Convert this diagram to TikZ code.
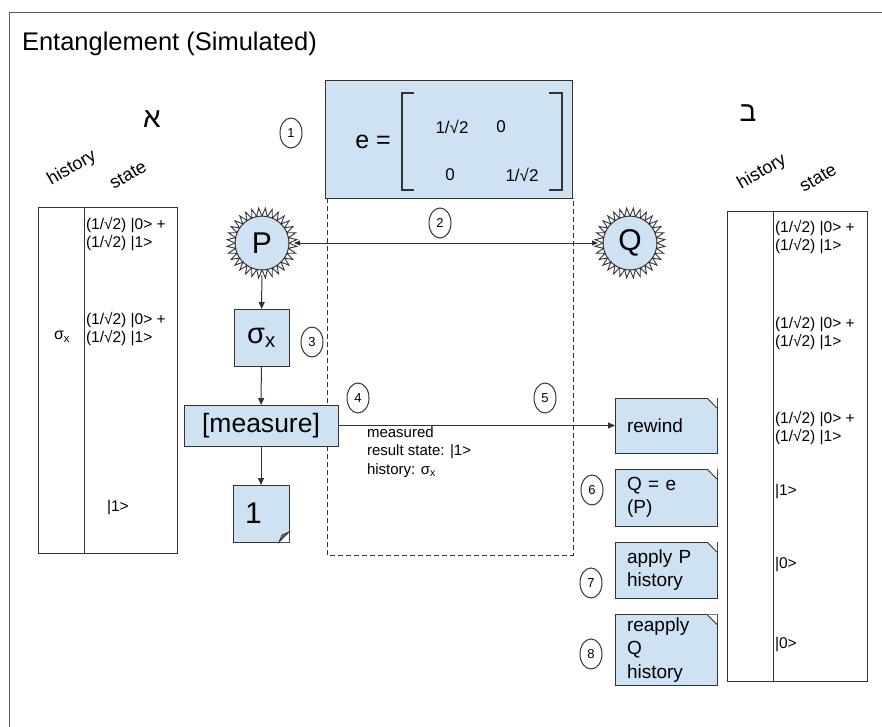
\documentclass[tikz,border=0pt]{standalone}
\usepackage{fontspec}
\setmainfont{Liberation Sans}
\newfontfamily\hebfont[Script=Hebrew]{Liberation Sans}
\TeXXeTstate=1
\usetikzlibrary{arrows.meta,shapes.geometric}

\definecolor{boxblue}{HTML}{CFE2F3}
\definecolor{framegray}{HTML}{595959}
\definecolor{ink}{HTML}{333333}

% zigzag rim round a node
\newcommand{\burst}[1]{%
  \begin{scope}[shift={(#1)}]
    \draw[ink, line width=0.9pt, line join=miter] (0:27) \foreach \k in {1,...,63} { -- ({\k*5.625}:{27+8*mod(\k,2)}) } -- cycle;
  \end{scope}}
% cut corner top right
\newcommand{\cutne}[1]{%
  \fill[white] ([xshift=-10pt]#1.north east) -- (#1.north east) -- ([yshift=-10pt]#1.north east) -- cycle;
  \draw[ink] ([xshift=-10pt]#1.north east) -- ([yshift=-10pt]#1.north east);}
% folded corner bottom right
\newcommand{\dogear}[1]{%
  \fill[white] ([xshift=-10pt]#1.south east) -- (#1.south east) -- ([yshift=10pt]#1.south east) -- cycle;
  \filldraw[ink, fill=black!55, line width=0.8pt] ([xshift=-10pt]#1.south east) -- ([yshift=10pt]#1.south east) -- ([xshift=-7pt,yshift=7pt]#1.south east) -- cycle;}

\begin{document}
\begin{tikzpicture}[x=1pt, y=-1pt, line width=1pt,
    every node/.style={inner sep=0pt, outer sep=0pt},
    bluebox/.style={draw=ink, fill=boxblue},
    notebox/.style={bluebox, minimum width=102pt, text width=78pt, inner xsep=12pt, align=left, font=\fontsize{19}{23.5}\selectfont},
    stepnum/.style={draw=ink, ellipse, minimum width=22pt, minimum height=30pt, font=\fontsize{13}{13}\selectfont},
    cell/.style={anchor=west, align=left, font=\fontsize{15.5}{18.5}\selectfont},
    colhead/.style={rotate=30, font=\fontsize{18}{18}\selectfont},
    arr/.style={ink, -{Triangle[length=7pt,width=6pt]}}]

    \useasboundingbox (0,0) rectangle (882,726);
    \clip (0,0) rectangle (882,726);
    \draw[framegray] (9,12) rectangle (900,740);

    \node[anchor=base west, font=\fontsize{25.5}{28}\selectfont] (title) at (22,50) {Entanglement (Simulated)};

    % the two parties
    \node[font=\fontsize{28}{30}\selectfont\hebfont] (alef) at (152,119) {\beginR א\endR};
    \node[font=\fontsize{28}{30}\selectfont\hebfont] (bet) at (748,113) {\beginR ב\endR};

    % matrix
    \node[bluebox, minimum width=247pt, minimum height=118pt] (matbox) at (448.5,139) {};
    \draw[ink, line width=1.2pt] (414,93) -- (402,93) -- (402,190) -- (414,190);
    \draw[ink, line width=1.2pt] (549,93) -- (562,93) -- (562,190) -- (549,190);
    \node[font=\fontsize{25}{25}\selectfont] (eq) at (373,142) {e =};
    \node[font=\fontsize{17}{17}\selectfont] (m11) at (452,127) {1/√2};
    \node[font=\fontsize{17}{17}\selectfont] (m12) at (501,127) {0};
    \node[font=\fontsize{17}{17}\selectfont] (m21) at (450,175) {0};
    \node[font=\fontsize{17}{17}\selectfont] (m22) at (522,175) {1/√2};

    \draw[ink, dash pattern=on 5pt off 3pt] (327,198) rectangle (573,555);

    % qubits
    \node[circle, bluebox, minimum size=54pt, outer sep=5pt, font=\fontsize{30}{30}\selectfont] (P) at (262,243) {P};
    \node[circle, bluebox, minimum size=54pt, outer sep=5pt, font=\fontsize{30}{30}\selectfont] (Q) at (630,243) {Q};
    \burst{P}
    \burst{Q}

    \node[bluebox, minimum width=55pt, minimum height=57pt, font=\fontsize{29}{29}\selectfont] (sx) at (261.5,337.5) {σ\textsubscript{x}};
    \node[bluebox, minimum width=154pt, minimum height=41pt, font=\fontsize{26.5}{26.5}\selectfont] (meas) at (261,425.5) {[measure]};
    \node[bluebox, minimum width=56pt, minimum height=57pt, text width=32pt, inner xsep=12pt, align=left, font=\fontsize{30}{30}\selectfont] (one) at (261,513.5) {1};
    \dogear{one}

    \node[notebox, minimum height=55pt] (rewind) at (666,425.5) {rewind};
    \node[notebox, minimum height=57pt] (qe) at (666,497.5) {Q = e\\(P)};
    \node[notebox, minimum height=56pt] (applyp) at (666,570) {apply P\\history};
    \node[notebox, minimum height=71pt] (reapply) at (666,650) {reapply\\Q\\history};
    \cutne{rewind}
    \cutne{qe}
    \cutne{applyp}
    \cutne{reapply}

    % connectors
    \draw[ink, {Triangle[length=6pt,width=5pt]}-{Triangle[length=6pt,width=5pt]}] (P) -- (Q);
    \draw[arr] (P) -- (sx);
    \draw[arr] (sx) -- (meas);
    \draw[arr] (meas) -- (one);
    \draw[arr] (meas) -- (rewind);
    \node[cell, font=\fontsize{15}{18.5}\selectfont] (mtext) at (367,452) {measured\\result state: |1>\\history: σ\textsubscript{x}};

    % step numbers
    \node[stepnum] (n1) at (291,133) {1};
    \node[stepnum] (n2) at (440,223) {2};
    \node[stepnum] (n3) at (312,342) {3};
    \node[stepnum] (n4) at (358,398) {4};
    \node[stepnum] (n5) at (545,398) {5};
    \node[stepnum] (n6) at (592,490) {6};
    \node[stepnum] (n7) at (591,583) {7};
    \node[stepnum] (n8) at (591,654) {8};

    % left table
    \node[colhead] (lhist) at (72,168) {history};
    \node[colhead] (lstate) at (128,175) {state};
    \draw[ink] (38,207) rectangle (177,553);
    \draw[ink] (84,207) -- (84,553);
    \node[cell] (la1) at (86,234) {(1/√2) |0> +\\(1/√2) |1>};
    \node[cell] (la2) at (86,329) {(1/√2) |0> +\\(1/√2) |1>};
    \node[font=\fontsize{16}{18}\selectfont] (lh2) at (62,337) {σ\textsubscript{x}};
    \node[cell] (la3) at (107,508) {|1>};

    % right table
    \node[colhead] (rhist) at (762,172) {history};
    \node[colhead] (rstate) at (818,178) {state};
    \draw[ink] (727,211) rectangle (867,681);
    \draw[ink] (773,211) -- (773,681);
    \node[cell] (ra1) at (775,237) {(1/√2) |0> +\\(1/√2) |1>};
    \node[cell] (ra2) at (775,333) {(1/√2) |0> +\\(1/√2) |1>};
    \node[cell] (ra3) at (775,428) {(1/√2) |0> +\\(1/√2) |1>};
    \node[cell] (ra4) at (775,492) {|1>};
    \node[cell] (ra5) at (775,565) {|0>};
    \node[cell] (ra6) at (775,645) {|0>};
\end{tikzpicture}
\end{document}
